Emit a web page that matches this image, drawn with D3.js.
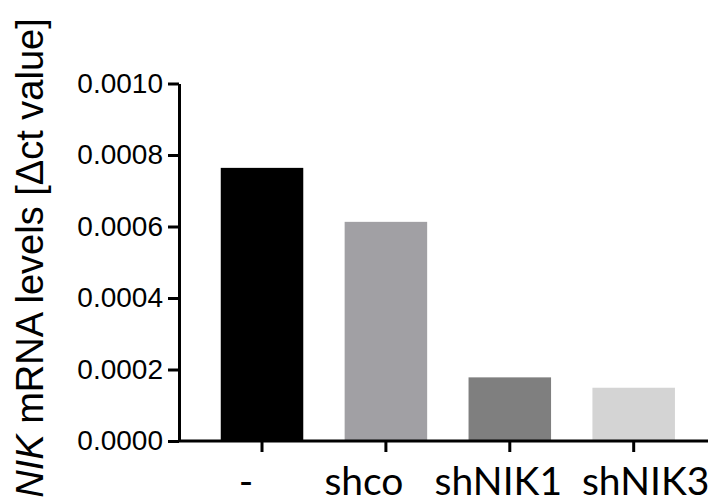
<!DOCTYPE html>
<html>
<head>
<meta charset="utf-8">
<script src="https://cdn.jsdelivr.net/npm/d3@7"></script>
<style>
  html, body { margin: 0; padding: 0; background: #fff; }
  svg { display: block; }
</style>
</head>
<body>
<svg id="chart" width="708" height="504"></svg>
<script>
// ---- data ----
const categories = ["-", "shco", "shNIK1", "shNIK3"];
const values = [0.000764, 0.000613, 0.000178, 0.000149];
const barColors = ["#000000", "#a1a0a4", "#7f7f7f", "#d4d4d4"];
const yTicks = [0.0000, 0.0002, 0.0004, 0.0006, 0.0008, 0.0010];

// ---- layout ----
const svg = d3.select("#chart");
const x0 = 179, x1 = 716.7, yBottom = 441, yTop = 83.5;
const labelNudge = [-16, -22, -11.5, 12];

const x = d3.scaleBand().domain(categories).range([x0, x1])
  .paddingInner(0.334).paddingOuter(0.337);
const y = d3.scaleLinear().domain([0, 0.001]).range([yBottom, yTop]);

// bars
svg.append("g").selectAll("rect").data(values).join("rect")
  .attr("x", (d, i) => x(categories[i]))
  .attr("width", x.bandwidth())
  .attr("y", d => y(d))
  .attr("height", d => y(0) - y(d))
  .attr("fill", (d, i) => barColors[i]);

// y axis
const yAxis = svg.append("g").attr("transform", `translate(${x0},0)`)
  .call(d3.axisLeft(y).tickValues(yTicks).tickFormat(d3.format(".4f"))
    .tickSize(11).tickPadding(5).tickSizeOuter(0));
yAxis.select(".domain").attr("stroke", "#000").attr("stroke-width", 3);
yAxis.selectAll(".tick line").attr("stroke", "#000").attr("stroke-width", 3);
yAxis.selectAll(".tick text")
  .attr("font-family", "'Liberation Sans', Arial, sans-serif")
  .attr("font-size", 28).attr("fill", "#000");

// x axis
const xAxis = svg.append("g").attr("transform", `translate(0,${yBottom})`)
  .call(d3.axisBottom(x).tickSize(11).tickSizeOuter(0).tickFormat(""));
xAxis.select(".domain").attr("stroke", "#000").attr("stroke-width", 3)
  .attr("d", `M${x0},0H${x1}`);
xAxis.selectAll(".tick line").attr("stroke", "#000").attr("stroke-width", 3);

// x labels
svg.append("g").selectAll("text").data(categories).join("text")
  .attr("x", (d, i) => x(d) + x.bandwidth() / 2 + labelNudge[i])
  .attr("y", 495)
  .attr("text-anchor", "middle")
  .attr("font-family", "Lato, 'Open Sans', sans-serif")
  .attr("font-size", 39)
  .attr("fill", "#000")
  .text(d => d);

// y title
const title = svg.append("text")
  .attr("transform", "translate(43,258) rotate(-90)")
  .attr("text-anchor", "middle")
  .attr("font-family", "'Liberation Sans', Arial, sans-serif")
  .attr("font-size", 38)
  .attr("fill", "#000");
title.append("tspan").attr("font-style", "italic").text("NIK");
title.append("tspan").text(" mRNA levels [Δct value]");
</script>
</body>
</html>
